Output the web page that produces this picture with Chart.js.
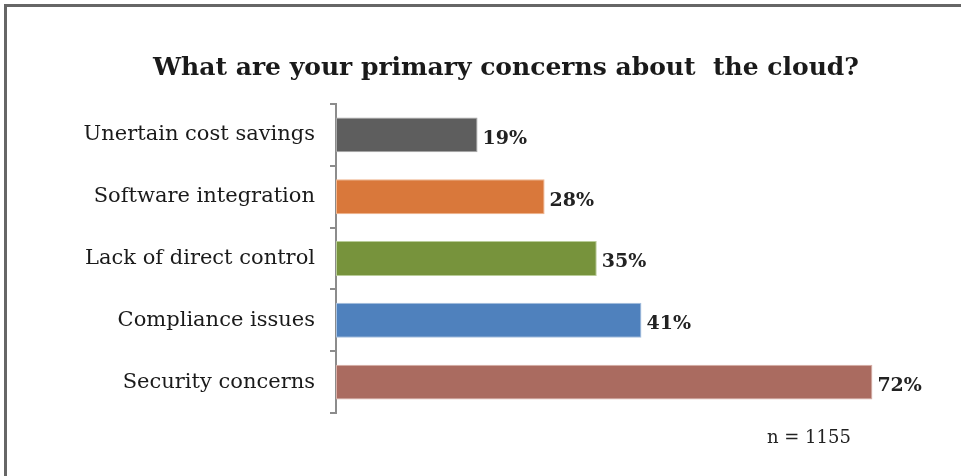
<!DOCTYPE html>
<html>
<head>
<meta charset="utf-8">
<script src="https://cdn.jsdelivr.net/npm/chart.js@4.4.1/dist/chart.umd.min.js"></script>
<style>
  html, body { margin: 0; padding: 0; background: #fff; }
  #wrap { position: relative; width: 961px; height: 476px; overflow: hidden; }
  #frame { position: absolute; left: 4px; top: 4px; right: -10px; bottom: -10px;
           border-left: 3px solid #666; border-top: 3px solid #666; pointer-events: none; }
  canvas { position: absolute; left: 0; top: 0; }
</style>
</head>
<body>
<div id="wrap">
  <canvas id="chart" width="961" height="476"></canvas>
  <div id="frame"></div>
</div>
<script>
const categories = ['Unertain cost savings', 'Software integration', 'Lack of direct control', 'Compliance issues', 'Security concerns'];
const values = [19, 28, 35, 41, 72];
const barColors = ['#5e5e5e', '#d9783b', '#77933c', '#4f81bd', '#aa6b60'];
const barEdges = ['#a8a8a8', '#f0b48c', '#b9cc98', '#a7c0de', '#d8aea6'];
const sampleNote = 'n = 1155';

const serif = "'DejaVu Serif', 'Liberation Serif', serif";

// percent labels next to bars + the sample size note
const valueLabels = {
  id: 'valueLabels',
  afterDatasetsDraw(chart) {
    const ctx = chart.ctx;
    const meta = chart.getDatasetMeta(0);
    ctx.save();
    ctx.fillStyle = '#222';
    ctx.font = 'bold 19px ' + serif;
    ctx.textAlign = 'left';
    ctx.textBaseline = 'middle';
    meta.data.forEach((bar, i) => {
      ctx.fillText(values[i] + '%', bar.x + 5, bar.y + 4);
    });
    ctx.font = '18px ' + serif;
    ctx.fillText(sampleNote, 767, 438);
    ctx.restore();
  }
};

new Chart(document.getElementById('chart'), {
  type: 'bar',
  data: {
    labels: categories,
    datasets: [{
      data: values,
      backgroundColor: barColors,
      borderColor: barEdges,
      borderWidth: 1,
      borderSkipped: false,
      categoryPercentage: 1,
      barPercentage: 0.565
    }]
  },
  options: {
    indexAxis: 'y',
    responsive: false,
    animation: false,
    layout: { padding: { left: 80, right: 29, top: 0, bottom: 63 } },
    plugins: {
      legend: { display: false },
      tooltip: { enabled: false },
      title: {
        display: true,
        text: 'What are your primary concerns about  the cloud?',
        color: '#1a1a1a',
        font: { family: serif, size: 25, weight: 'bold' },
        padding: { top: 53, bottom: 21 }
      }
    },
    scales: {
      x: {
        display: false,
        min: 0,
        max: 80
      },
      y: {
        afterFit(scale) { scale.width = 256; },
        border: { display: true, color: '#8c8c8c', width: 2 },
        grid: {
          drawOnChartArea: false,
          drawTicks: true,
          tickLength: 6,
          color: '#8c8c8c',
          lineWidth: 2
        },
        ticks: {
          color: '#1a1a1a',
          padding: 15,
          font: { family: serif, size: 21 }
        }
      }
    }
  },
  plugins: [valueLabels]
});
</script>
</body>
</html>
